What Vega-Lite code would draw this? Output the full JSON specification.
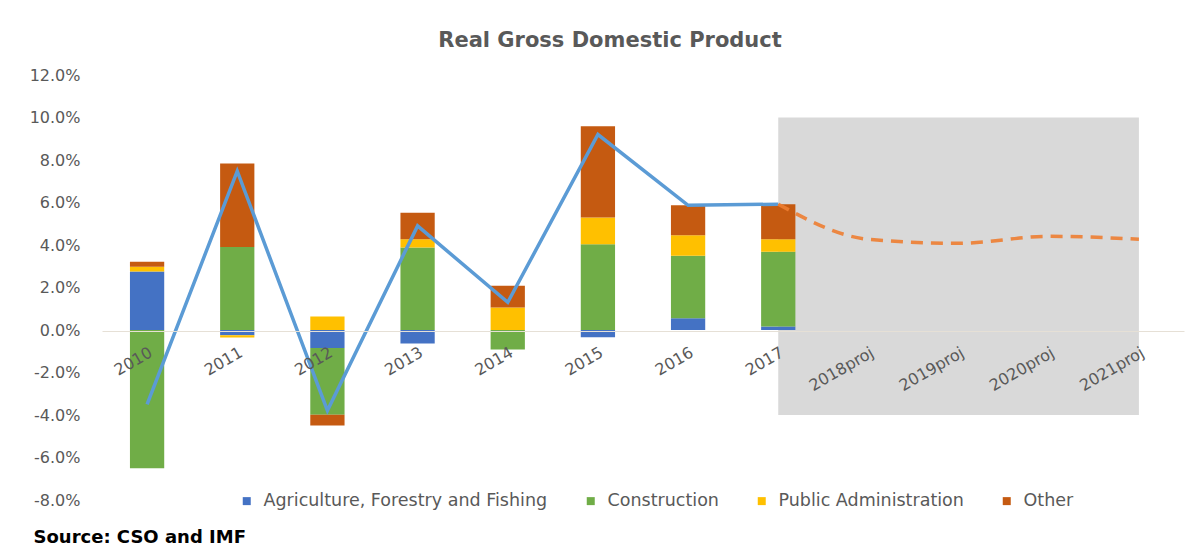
{
  "$schema": "https://vega.github.io/schema/vega-lite/v6.json",
  "width": 1082,
  "height": 425,
  "autosize": {"type": "none"},
  "padding": {"left": 102, "top": 75, "right": 14, "bottom": 57},
  "background": "white",
  "config": {
    "view": {"stroke": null},
    "font": "DejaVu Sans",
    "legend": {"labelFont": "DejaVu Sans"},
    "axis": {"labelFont": "DejaVu Sans", "titleFont": "DejaVu Sans"},
    "title": {"font": "DejaVu Sans"}
  },
  "title": {
    "text": "Real Gross Domestic Product",
    "fontSize": 21,
    "fontWeight": "bold",
    "color": "#595959",
    "anchor": "middle",
    "dx": -33,
    "offset": 16
  },
  "datasets": {
    "bars": [
      {"year": "2010", "sector": "Agriculture, Forestry and Fishing", "seq": 1, "value": 2.75},
      {"year": "2010", "sector": "Construction", "seq": 2, "value": -6.5},
      {"year": "2010", "sector": "Public Administration", "seq": 3, "value": 0.23},
      {"year": "2010", "sector": "Other", "seq": 4, "value": 0.23},
      {"year": "2011", "sector": "Agriculture, Forestry and Fishing", "seq": 1, "value": -0.25},
      {"year": "2011", "sector": "Construction", "seq": 2, "value": 3.91},
      {"year": "2011", "sector": "Public Administration", "seq": 3, "value": -0.1},
      {"year": "2011", "sector": "Other", "seq": 4, "value": 3.93},
      {"year": "2012", "sector": "Agriculture, Forestry and Fishing", "seq": 1, "value": -0.85},
      {"year": "2012", "sector": "Construction", "seq": 2, "value": -3.14},
      {"year": "2012", "sector": "Public Administration", "seq": 3, "value": 0.64},
      {"year": "2012", "sector": "Other", "seq": 4, "value": -0.5},
      {"year": "2013", "sector": "Agriculture, Forestry and Fishing", "seq": 1, "value": -0.63},
      {"year": "2013", "sector": "Construction", "seq": 2, "value": 3.88},
      {"year": "2013", "sector": "Public Administration", "seq": 3, "value": 0.39},
      {"year": "2013", "sector": "Other", "seq": 4, "value": 1.25},
      {"year": "2014", "sector": "Agriculture, Forestry and Fishing", "seq": 1, "value": 0},
      {"year": "2014", "sector": "Construction", "seq": 2, "value": -0.92},
      {"year": "2014", "sector": "Public Administration", "seq": 3, "value": 1.06},
      {"year": "2014", "sector": "Other", "seq": 4, "value": 1.02},
      {"year": "2015", "sector": "Agriculture, Forestry and Fishing", "seq": 1, "value": -0.34},
      {"year": "2015", "sector": "Construction", "seq": 2, "value": 4.04},
      {"year": "2015", "sector": "Public Administration", "seq": 3, "value": 1.25},
      {"year": "2015", "sector": "Other", "seq": 4, "value": 4.3},
      {"year": "2016", "sector": "Agriculture, Forestry and Fishing", "seq": 1, "value": 0.55},
      {"year": "2016", "sector": "Construction", "seq": 2, "value": 2.94},
      {"year": "2016", "sector": "Public Administration", "seq": 3, "value": 0.97},
      {"year": "2016", "sector": "Other", "seq": 4, "value": 1.41},
      {"year": "2017", "sector": "Agriculture, Forestry and Fishing", "seq": 1, "value": 0.16},
      {"year": "2017", "sector": "Construction", "seq": 2, "value": 3.52},
      {"year": "2017", "sector": "Public Administration", "seq": 3, "value": 0.59},
      {"year": "2017", "sector": "Other", "seq": 4, "value": 1.65}
    ],
    "gdp": [
      {"year": "2010", "series": "Actual", "gdp": -3.5},
      {"year": "2011", "series": "Actual", "gdp": 7.48},
      {"year": "2012", "series": "Actual", "gdp": -3.79},
      {"year": "2013", "series": "Actual", "gdp": 4.9},
      {"year": "2014", "series": "Actual", "gdp": 1.3},
      {"year": "2015", "series": "Actual", "gdp": 9.2},
      {"year": "2016", "series": "Actual", "gdp": 5.87},
      {"year": "2017", "series": "Actual", "gdp": 5.92},
      {"year": "2017", "series": "Projection", "gdp": 5.92},
      {"year": "2018proj", "series": "Projection", "gdp": 4.27},
      {"year": "2019proj", "series": "Projection", "gdp": 4.08},
      {"year": "2020proj", "series": "Projection", "gdp": 4.41},
      {"year": "2021proj", "series": "Projection", "gdp": 4.27}
    ]
  },
  "encoding": {
    "x": {
      "field": "year",
      "type": "nominal",
      "scale": {
        "domain": ["2010", "2011", "2012", "2013", "2014", "2015", "2016", "2017", "2018proj", "2019proj", "2020proj", "2021proj"],
        "paddingInner": 0.62,
        "paddingOuter": 0.31
      },
      "axis": {
        "title": null,
        "offset": -169,
        "zindex": 1,
        "labelAngle": -30,
        "labelAlign": "right",
        "labelBaseline": "top",
        "labelFontSize": 16,
        "labelColor": "#595959",
        "labelPadding": 13,
        "ticks": false,
        "domainColor": "#E6E0D6",
        "domainWidth": 1
      }
    }
  },
  "layer": [
    {
      "data": {"values": [{}]},
      "mark": {"type": "rect", "color": "#D9D9D9"},
      "encoding": {
        "x": {"datum": "2017", "bandPosition": 0.5},
        "x2": {"datum": "2021proj", "bandPosition": 0.5},
        "y": {"datum": -4, "type": "quantitative"},
        "y2": {"datum": 10}
      }
    },
    {
      "data": {"name": "bars"},
      "mark": {"type": "bar"},
      "encoding": {
        "y": {
          "field": "value",
          "type": "quantitative",
          "stack": "zero",
          "scale": {"domain": [-8, 12], "nice": false},
          "axis": {
            "values": [-8, -6, -4, -2, 0, 2, 4, 6, 8, 10, 12],
            "labelExpr": "(datum.value < 0 ? '-' : '') + format(abs(datum.value), '.1f') + '%'",
            "labelFontSize": 16,
            "labelColor": "#595959",
            "labelPadding": 22,
            "domain": false,
            "ticks": false,
            "grid": false,
            "title": "Source: CSO and IMF",
            "titleAngle": 0,
            "titleAlign": "left",
            "titleBaseline": "middle",
            "titleX": -69,
            "titleY": 462,
            "titleFontSize": 18,
            "titleFontWeight": "bold",
            "titleColor": "#000000"
          }
        },
        "order": {"field": "seq", "type": "quantitative", "sort": "ascending"},
        "color": {
          "field": "sector",
          "type": "nominal",
          "scale": {
            "domain": ["Agriculture, Forestry and Fishing", "Construction", "Public Administration", "Other"],
            "range": ["#4472C4", "#70AD47", "#FFC000", "#C55A11"]
          },
          "legend": {
            "title": null,
            "orient": "none",
            "direction": "horizontal",
            "legendX": 136,
            "legendY": 417,
            "symbolType": "square",
            "symbolSize": 64,
            "symbolStrokeWidth": 0,
            "labelFont": "DejaVu Sans",
            "labelFontSize": 17.5,
            "labelLimit": 0,
            "labelColor": "#595959",
            "labelOffset": 8,
            "columnPadding": 34
          }
        }
      }
    },
    {
      "data": {"name": "gdp"},
      "transform": [{"filter": "datum.series == 'Actual'"}],
      "mark": {"type": "line", "color": "#5B9BD5", "strokeWidth": 3.5},
      "encoding": {
        "y": {"field": "gdp", "type": "quantitative"}
      }
    },
    {
      "data": {"name": "gdp"},
      "transform": [{"filter": "datum.series == 'Projection'"}],
      "mark": {"type": "line", "color": "#ED7D31", "strokeWidth": 3.5, "strokeDash": [12, 8], "interpolate": "monotone", "opacity": 0.9},
      "encoding": {
        "y": {"field": "gdp", "type": "quantitative"}
      }
    }
  ]
}
